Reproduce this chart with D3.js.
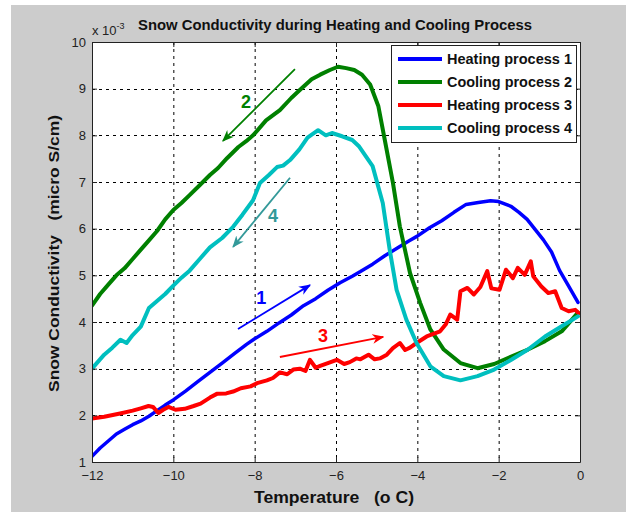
<!DOCTYPE html>
<html>
<head>
<meta charset="utf-8">
<script src="https://cdn.jsdelivr.net/npm/d3@7"></script>
<style>
  body { margin: 0; background: #fff; }
  text { font-family: "Liberation Sans", Arial, sans-serif; }
</style>
</head>
<body>
<div id="chart"></div>
<script>
// series: [temperature (o C), conductivity (x 1e-3 micro S/cm)]
const heating1 = [[-12,1.12],[-11.8,1.3],[-11.6,1.45],[-11.4,1.6],[-11.2,1.7],[-11,1.8],[-10.8,1.88],[-10.6,1.98],[-10.4,2.1],[-10.2,2.22],[-10,2.33],[-9.7,2.52],[-9.4,2.72],[-9.1,2.92],[-8.8,3.12],[-8.5,3.32],[-8.2,3.52],[-8,3.64],[-7.7,3.8],[-7.4,3.98],[-7.1,4.15],[-6.8,4.35],[-6.5,4.5],[-6.2,4.68],[-5.9,4.84],[-5.6,4.98],[-5.4,5.08],[-5.1,5.24],[-4.8,5.42],[-4.5,5.58],[-4.2,5.74],[-4,5.84],[-3.7,6.02],[-3.4,6.17],[-3.1,6.35],[-2.8,6.52],[-2.5,6.56],[-2.2,6.6],[-2,6.58],[-1.7,6.48],[-1.5,6.35],[-1.3,6.2],[-1.1,5.98],[-0.9,5.76],[-0.7,5.5],[-0.5,5.1],[-0.3,4.8],[-0.05,4.42]];

const cooling2 = [[-12,4.35],[-11.8,4.6],[-11.6,4.8],[-11.4,5.0],[-11.2,5.15],[-11,5.35],[-10.8,5.55],[-10.6,5.75],[-10.4,5.95],[-10.2,6.2],[-10,6.4],[-9.8,6.55],[-9.6,6.72],[-9.34,6.94],[-9.1,7.15],[-8.9,7.3],[-8.68,7.51],[-8.4,7.75],[-8.2,7.88],[-8.04,8.0],[-7.72,8.32],[-7.38,8.54],[-7.1,8.8],[-6.89,8.97],[-6.6,9.2],[-6.39,9.3],[-6.15,9.4],[-5.95,9.47],[-5.75,9.44],[-5.55,9.4],[-5.36,9.3],[-5.16,9.09],[-4.96,8.63],[-4.8,7.9],[-4.6,6.98],[-4.43,6.05],[-4.18,5.05],[-3.93,4.41],[-3.68,3.84],[-3.35,3.41],[-2.94,3.12],[-2.52,3.01],[-2.11,3.1],[-1.69,3.26],[-1.28,3.41],[-0.86,3.59],[-0.45,3.8],[-0.05,4.2]];

const heating3 = [[-12,1.93],[-11.7,1.97],[-11.31,2.04],[-11,2.1],[-10.8,2.15],[-10.61,2.2],[-10.5,2.18],[-10.37,2.05],[-10.25,2.12],[-10.12,2.18],[-9.95,2.12],[-9.72,2.14],[-9.5,2.2],[-9.33,2.25],[-9.1,2.38],[-8.93,2.46],[-8.7,2.47],[-8.53,2.51],[-8.34,2.58],[-8.1,2.62],[-7.94,2.69],[-7.7,2.75],[-7.55,2.8],[-7.38,2.92],[-7.2,2.88],[-7.05,2.98],[-6.89,3.0],[-6.75,2.95],[-6.64,3.19],[-6.5,3.02],[-6.39,3.06],[-6.2,3.12],[-5.98,3.19],[-5.8,3.1],[-5.66,3.14],[-5.5,3.22],[-5.4,3.2],[-5.2,3.3],[-5.05,3.2],[-4.92,3.22],[-4.75,3.3],[-4.6,3.44],[-4.43,3.55],[-4.3,3.4],[-4.18,3.45],[-4.02,3.55],[-3.77,3.69],[-3.44,3.8],[-3.3,3.95],[-3.19,4.16],[-3.02,4.05],[-2.94,4.66],[-2.77,4.73],[-2.61,4.59],[-2.45,4.75],[-2.28,5.09],[-2.18,4.72],[-1.98,4.69],[-1.82,5.12],[-1.65,4.94],[-1.53,5.16],[-1.36,5.01],[-1.21,5.3],[-1.15,4.98],[-0.95,4.76],[-0.78,4.62],[-0.61,4.66],[-0.45,4.3],[-0.28,4.23],[-0.12,4.26],[-0.03,4.19]];

const cooling4 = [[-12,3.0],[-11.85,3.15],[-11.7,3.3],[-11.5,3.45],[-11.3,3.62],[-11.15,3.55],[-11,3.72],[-10.8,3.9],[-10.6,4.3],[-10.4,4.45],[-10.2,4.6],[-10,4.78],[-9.8,4.95],[-9.6,5.1],[-9.35,5.35],[-9.1,5.6],[-8.8,5.8],[-8.53,6.04],[-8.3,6.3],[-8.04,6.61],[-7.87,6.98],[-7.65,7.15],[-7.45,7.32],[-7.3,7.35],[-7.13,7.47],[-6.9,7.7],[-6.7,7.95],[-6.44,8.11],[-6.25,8.0],[-6.1,8.05],[-5.85,7.98],[-5.6,7.9],[-5.43,7.76],[-5.1,7.34],[-4.85,6.55],[-4.68,5.55],[-4.51,4.69],[-4.27,4.05],[-4.02,3.55],[-3.68,3.05],[-3.35,2.84],[-2.94,2.75],[-2.52,2.84],[-2.11,2.98],[-1.69,3.19],[-1.28,3.41],[-0.86,3.69],[-0.45,3.91],[-0.05,4.12]];

const seriesNames = ["Heating process 1", "Cooling process 2", "Heating process 3", "Cooling process 4"];
const seriesData = [heating1, cooling2, heating3, cooling4];
const seriesColors = ["#0000ff", "#008000", "#ff0000", "#00bfbf"];

const xTicks = [-12, -10, -8, -6, -4, -2, 0];
const yTicks = [1, 2, 3, 4, 5, 6, 7, 8, 9, 10];

// arrow annotations in data units: label, from, to, label position
const arrowLabels = ["1", "2", "3", "4"];
const arrowFrom = [[-8.41,3.85], [-7.01,9.42], [-7.38,3.25], [-7.13,7.09]];
const arrowTo = [[-6.64,4.79], [-8.78,7.88], [-4.84,3.68], [-8.53,5.61]];
const arrowText = [[-7.84,4.51], [-8.21,8.71], [-6.32,3.70], [-7.55,6.27]];
const arrowColors = ["#0000ff", "#008000", "#ff0000", "#339999"];

const W = 626, H = 512;
const svg = d3.select("#chart").append("svg")
  .attr("width", W).attr("height", H);

// figure background
svg.append("rect").attr("x", 11).attr("y", 5).attr("width", W - 11).attr("height", H - 5)
  .style("fill", "#cccccc");

const x = d3.scaleLinear().domain([-12, 0]).range([92, 580]);
const y = d3.scaleLinear().domain([1, 10]).range([462, 42]);

svg.append("rect")
  .attr("x", x(-12)).attr("y", y(10))
  .attr("width", x(0) - x(-12)).attr("height", y(1) - y(10))
  .style("fill", "#fff");

// dashed grid
svg.append("g").selectAll("line").data(xTicks.slice(1, -1)).enter().append("line")
  .attr("x1", d => x(d) + 0.5).attr("x2", d => x(d) + 0.5)
  .attr("y1", y(10)).attr("y2", y(1))
  .style("stroke", "#000").style("stroke-width", 1).style("stroke-dasharray", "3,4");
svg.append("g").selectAll("line").data(yTicks.slice(1, -1)).enter().append("line")
  .attr("y1", d => Math.round(y(d)) + 0.5).attr("y2", d => Math.round(y(d)) + 0.5)
  .attr("x1", x(-12)).attr("x2", x(0))
  .style("stroke", "#000").style("stroke-width", 1).style("stroke-dasharray", "3,4");

svg.append("defs").append("clipPath").attr("id", "clip")
  .append("rect").attr("x", x(-12)).attr("y", y(10))
  .attr("width", x(0) - x(-12)).attr("height", y(1) - y(10));

const line = d3.line().x(d => x(d[0])).y(d => y(d[1]));

const plot = svg.append("g").attr("clip-path", "url(#clip)");
seriesData.forEach((s, i) => {
  plot.append("path")
    .datum(s)
    .attr("d", line)
    .style("fill", "none")
    .style("stroke", seriesColors[i])
    .style("stroke-width", i == 0 ? 3.5 : 4)
    .style("stroke-linejoin", "round")
    .style("stroke-linecap", "round");
});

// arrows
const defs = svg.select("defs");
arrowColors.forEach((c, i) => {
  defs.append("marker")
    .attr("id", "head" + i)
    .attr("viewBox", "0 0 10 10")
    .attr("refX", 9).attr("refY", 5)
    .attr("markerWidth", 12).attr("markerHeight", 12)
    .attr("markerUnits", "userSpaceOnUse")
    .attr("orient", "auto")
    .append("path")
    .attr("d", "M0,1 L10,5 L0,9 L3,5 Z")
    .style("fill", c);
});
arrowLabels.forEach((lab, i) => {
  svg.append("line")
    .attr("x1", x(arrowFrom[i][0])).attr("y1", y(arrowFrom[i][1]))
    .attr("x2", x(arrowTo[i][0])).attr("y2", y(arrowTo[i][1]))
    .style("stroke", arrowColors[i]).style("stroke-width", 1.8)
    .attr("marker-end", "url(#head" + i + ")");
  svg.append("text")
    .attr("x", x(arrowText[i][0])).attr("y", y(arrowText[i][1]))
    .attr("text-anchor", "middle").attr("dominant-baseline", "central")
    .style("font-size", "18px").style("font-weight", "bold")
    .style("fill", arrowColors[i])
    .text(lab);
});

// axes with inward ticks, MATLAB style box
const axisStyle = g => {
  g.selectAll(".domain").style("stroke", "#222");
  g.selectAll(".tick line").style("stroke", "#222");
  g.selectAll("text").style("font-size", "13px").style("fill", "#222")
    .style("font-family", "'Liberation Sans', Arial, sans-serif");
};
svg.append("g").attr("transform", "translate(0," + y(1) + ")")
  .call(d3.axisBottom(x).tickValues(xTicks).tickSizeInner(-5).tickSizeOuter(0).tickPadding(9))
  .call(axisStyle);
svg.append("g").attr("transform", "translate(0," + y(10) + ")")
  .call(d3.axisTop(x).tickValues(xTicks).tickSizeInner(-5).tickSizeOuter(0).tickFormat(""))
  .call(axisStyle);
svg.append("g").attr("transform", "translate(" + x(-12) + ",0)")
  .call(d3.axisLeft(y).tickValues(yTicks).tickSizeInner(-5).tickSizeOuter(0).tickPadding(6))
  .call(axisStyle);
svg.append("g").attr("transform", "translate(" + x(0) + ",0)")
  .call(d3.axisRight(y).tickValues(yTicks).tickSizeInner(-5).tickSizeOuter(0).tickFormat(""))
  .call(axisStyle);

// exponent and title
const expo = svg.append("text").attr("x", 92).attr("y", 35)
  .style("font-size", "13px").style("fill", "#222");
expo.append("tspan").text("x 10");
expo.append("tspan").attr("dy", -6).style("font-size", "9px").text("-3");

svg.append("text")
  .attr("x", 138).attr("y", 30)
  .attr("textLength", 394).attr("lengthAdjust", "spacingAndGlyphs")
  .style("font-size", "15px").style("font-weight", "bold").style("fill", "#111")
  .text("Snow Conductivity during Heating and Cooling Process");

svg.append("text")
  .attr("x", 254).attr("y", 503)
  .attr("textLength", 160).attr("lengthAdjust", "spacingAndGlyphs")
  .style("font-size", "17px").style("font-weight", "bold").style("fill", "#111")
  .style("white-space", "pre")
  .text("Temperature   (o C)");

svg.append("text")
  .attr("transform", "translate(59,392) rotate(-90)")
  .attr("textLength", 277).attr("lengthAdjust", "spacingAndGlyphs")
  .style("font-size", "15px").style("font-weight", "bold").style("fill", "#111")
  .style("white-space", "pre")
  .text("Snow Conductivity   (micro S/cm)");

// legend
const legend = svg.append("g");
legend.append("rect")
  .attr("x", 391.5).attr("y", 45.5).attr("width", 185).attr("height", 97)
  .style("fill", "#fff").style("stroke", "#222").style("stroke-width", 1);
seriesNames.forEach((name, i) => {
  const ly = 59 + i * 23;
  legend.append("line")
    .attr("x1", 398).attr("x2", 442).attr("y1", ly).attr("y2", ly)
    .style("stroke", seriesColors[i]).style("stroke-width", 4);
  legend.append("text")
    .attr("x", 447).attr("y", ly).attr("dy", "0.35em")
    .attr("textLength", 125).attr("lengthAdjust", "spacingAndGlyphs")
    .style("font-size", "14px").style("font-weight", "bold").style("fill", "#111")
    .text(name);
});
</script>
</body>
</html>
